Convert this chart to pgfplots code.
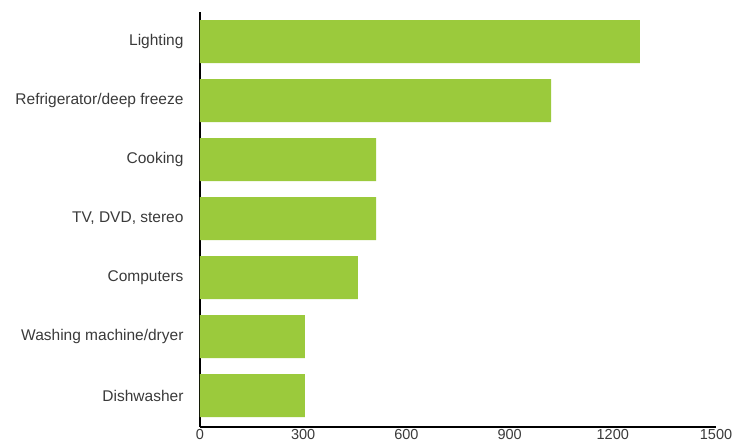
\documentclass[border=0pt]{standalone}
\usepackage{pgfplots}
\pgfplotsset{compat=1.18}
\usepackage{fontspec}
\setmainfont{Liberation Sans}
\definecolor{bargreen}{HTML}{9BCA3C}
\definecolor{txt}{HTML}{3A3A3A}
\begin{document}
\begin{tikzpicture}
\begin{axis}[
  name=ax,
  scale only axis,
  width=516pt, height=415pt,
  xbar, bar width=43pt, bar shift=0pt,
  xmin=0, xmax=1500,
  ymin=-0.53, ymax=6.5,
  xtick={0,300,600,900,1200,1500},
  ytick={0,1,2,3,4,5,6},
  yticklabels={Dishwasher,Washing machine/dryer,Computers,{TV, DVD, stereo},Cooking,Refrigerator/deep freeze,Lighting},
  axis x line=bottom, axis y line=left,
  axis line style={-, line width=2.8pt, black},
  major tick length=0pt,
  tick label style={font=\fontsize{15.5}{18}\selectfont, text=txt},
  yticklabel style={xshift=-13pt},
  xticklabel style={yshift=-2pt, inner sep=0pt, font=\fontsize{14.5}{15}\selectfont},
  /pgf/number format/assume math mode=true,
  /pgf/number format/1000 sep={},
  clip=false,
]
\addplot[fill=bargreen, draw=none] coordinates {
 (305,0) (305,1) (459,2) (512,3) (512,4) (1021,5) (1279,6)
};
\end{axis}
\pgfresetboundingbox
\path[use as bounding box] ([shift={(-200pt,-16pt)}]ax.south west) rectangle ([shift={(16pt,12pt)}]ax.north east);
\end{tikzpicture}
\end{document}
